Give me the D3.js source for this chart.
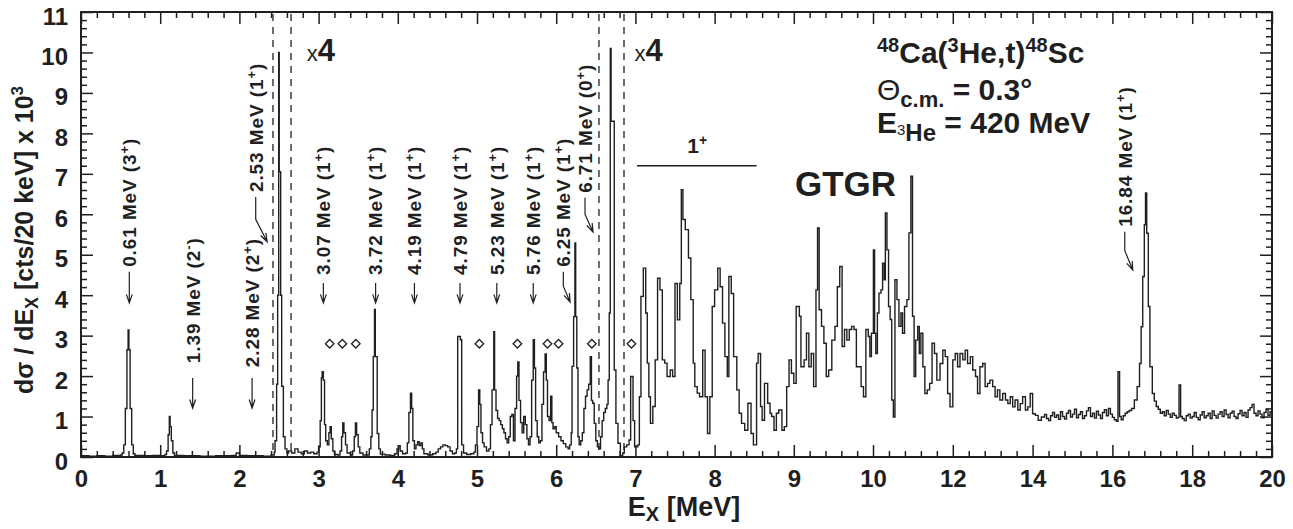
<!DOCTYPE html>
<html>
<head>
<meta charset="utf-8">
<script src="https://cdn.jsdelivr.net/npm/d3@7/dist/d3.min.js"></script>
<style>
  body { margin: 0; background: #fff; }
  svg { display: block; font-family: "Liberation Sans", Arial, Helvetica, sans-serif; }
</style>
</head>
<body>
<svg id="chart"></svg>
<script>
// Spectrum, [Ex (MeV), counts x 10^3], drawn as a step histogram
const spectrumLow = [
  [0.0, 0.03], [0.1, 0.02], [0.2, 0.03], [0.3, 0.02], [0.4, 0.04], [0.5, 0.05], [0.52, 0.1],
  [0.54, 0.3], [0.56, 1.2], [0.58, 2.65], [0.595, 3.14], [0.605, 2.65], [0.62, 1.2], [0.64, 0.3],
  [0.66, 0.08], [0.68, 0.04], [0.8, 0.03], [0.9, 0.04], [1.0, 0.03], [1.06, 0.06], [1.08, 0.15],
  [1.10, 0.55], [1.115, 1.0], [1.125, 0.75], [1.14, 0.4], [1.16, 0.1], [1.18, 0.04], [1.3, 0.03],
  [1.5, 0.02], [1.7, 0.03], [1.9, 0.04], [1.96, 0.1], [2.0, 0.04], [2.1, 0.03], [2.3, 0.02],
  [2.4, 0.05], [2.44, 0.12], [2.45, 0.4], [2.47, 1.8], [2.483, 4.0], [2.496, 10.0], [2.503, 7.05],
  [2.521, 4.0], [2.534, 1.75], [2.555, 0.5], [2.576, 0.2], [2.6, 0.1]
];

// shown x4
const spectrumX4a = [
  [2.62, 0.15], [2.66, 0.1], [2.70, 0.2], [2.74, 0.12], [2.78, 0.08], [2.82, 0.15], [2.86, 0.1],
  [2.90, 0.12], [2.94, 0.08], [2.98, 0.12], [3.00, 0.25], [3.02, 0.9], [3.035, 1.96], [3.045, 2.11],
  [3.06, 1.9], [3.075, 0.8], [3.09, 0.4], [3.11, 0.3], [3.13, 0.6], [3.145, 0.75], [3.16, 0.45],
  [3.18, 0.15], [3.20, 0.06], [3.24, 0.05], [3.27, 0.15], [3.29, 0.5], [3.305, 0.84], [3.32, 0.6],
  [3.34, 0.3], [3.36, 0.1], [3.40, 0.05], [3.43, 0.15], [3.45, 0.5], [3.465, 0.84], [3.48, 0.55],
  [3.50, 0.25], [3.52, 0.1], [3.56, 0.05], [3.60, 0.05], [3.64, 0.2], [3.66, 0.5], [3.675, 1.16],
  [3.69, 2.48], [3.706, 3.65], [3.716, 2.48], [3.74, 0.58], [3.76, 0.2], [3.78, 0.07], [3.84, 0.05],
  [3.90, 0.04], [3.96, 0.08], [3.99, 0.2], [4.01, 0.28], [4.03, 0.15], [4.06, 0.08], [4.10, 0.1],
  [4.12, 0.35], [4.14, 1.1], [4.16, 1.58], [4.175, 1.2], [4.19, 0.4], [4.21, 0.2], [4.23, 0.3],
  [4.25, 0.38], [4.27, 0.28], [4.29, 0.35], [4.31, 0.2], [4.33, 0.08], [4.38, 0.05], [4.44, 0.08],
  [4.48, 0.12], [4.51, 0.2], [4.54, 0.25], [4.57, 0.3], [4.60, 0.28], [4.63, 0.25], [4.66, 0.15],
  [4.69, 0.08], [4.72, 0.1], [4.74, 0.2], [4.756, 2.98], [4.79, 2.9], [4.807, 0.3], [4.83, 0.1],
  [4.87, 0.06], [4.92, 0.08], [4.96, 0.12], [4.98, 0.3], [5.00, 0.75], [5.02, 1.66], [5.035, 1.3],
  [5.05, 0.6], [5.07, 0.35], [5.09, 0.25], [5.12, 0.15], [5.15, 0.2], [5.17, 0.8], [5.19, 1.66],
  [5.212, 3.1], [5.222, 1.66], [5.24, 1.15], [5.26, 0.95], [5.28, 0.9], [5.30, 0.8], [5.32, 0.7],
  [5.34, 0.6], [5.36, 0.45], [5.38, 0.35], [5.40, 0.5], [5.42, 1.0], [5.44, 1.05], [5.46, 0.4],
  [5.48, 1.2], [5.50, 2.0], [5.515, 2.35], [5.53, 1.4], [5.55, 0.85], [5.57, 0.6], [5.59, 1.0],
  [5.61, 0.8], [5.63, 0.45], [5.65, 0.3], [5.67, 0.5], [5.69, 1.9], [5.71, 2.9], [5.725, 2.2],
  [5.74, 0.9], [5.76, 0.5], [5.78, 0.35], [5.80, 0.4], [5.82, 1.3], [5.84, 2.1], [5.86, 2.55],
  [5.875, 1.9], [5.89, 1.0], [5.91, 0.9], [5.93, 1.5], [5.945, 0.85], [5.96, 0.7], [5.98, 0.75],
  [6.00, 0.6], [6.03, 0.5], [6.06, 0.4], [6.09, 0.33], [6.12, 0.25], [6.15, 0.2], [6.17, 0.3],
  [6.19, 0.6], [6.20, 2.24], [6.22, 3.47], [6.236, 5.29], [6.246, 3.47], [6.26, 2.2], [6.275, 0.5],
  [6.29, 0.3], [6.31, 0.4], [6.33, 0.6], [6.35, 1.2], [6.37, 1.5], [6.39, 1.66], [6.41, 1.8],
  [6.43, 2.48], [6.445, 1.4], [6.46, 1.33], [6.48, 0.83], [6.50, 0.4], [6.52, 0.25]
];

// 6.71 MeV peak, shown x1
const spectrumMid = [
  [6.54, 0.2], [6.56, 0.5], [6.58, 0.9], [6.60, 1.1], [6.62, 1.2], [6.64, 1.3], [6.655, 1.9],
  [6.67, 3.56], [6.683, 10.1], [6.693, 8.3], [6.733, 2.15], [6.754, 0.83], [6.78, 0.34],
  [6.81, 0.03], [6.84, 0.1]
];

// shown x4
const spectrumHigh = [
  [6.86, 0.25], [6.89, 0.3], [6.92, 0.42], [6.94, 1.99], [6.97, 0.9], [6.99, 0.25], [7.03, 0.3],
  [7.05, 1.49], [7.07, 3.97], [7.10, 4.67], [7.13, 3.56], [7.15, 2.32], [7.17, 1.49], [7.19, 0.83],
  [7.22, 1.25], [7.25, 2.4], [7.28, 4.42], [7.31, 4.13], [7.34, 2.4], [7.37, 2.32], [7.40, 1.99],
  [7.44, 2.15], [7.47, 1.99], [7.50, 4.29], [7.53, 3.39], [7.56, 4.29], [7.58, 6.61], [7.60, 5.87],
  [7.63, 5.62], [7.67, 4.92], [7.70, 3.89], [7.73, 2.32], [7.75, 1.74], [7.78, 1.58], [7.81, 1.49],
  [7.85, 2.64], [7.88, 1.49], [7.91, 0.58], [7.94, 1.49], [7.97, 3.72], [8.00, 4.13], [8.04, 4.67],
  [8.07, 4.21], [8.10, 3.31], [8.13, 2.48], [8.16, 1.99], [8.18, 4.46], [8.21, 4.04], [8.24, 2.48],
  [8.28, 1.66], [8.31, 1.08], [8.34, 0.83], [8.38, 0.66], [8.42, 1.33], [8.46, 0.58], [8.49, 0.3],
  [8.53, 2.32], [8.55, 2.56], [8.58, 1.25], [8.60, 0.91], [8.63, 1.82], [8.67, 1.33], [8.70, 1.08],
  [8.72, 1.0], [8.75, 0.66], [8.78, 1.08], [8.81, 1.16], [8.85, 0.66], [8.88, 0.75], [8.91, 1.74],
  [8.94, 2.4], [8.97, 2.07], [9.00, 1.82], [9.03, 3.72], [9.07, 3.48], [9.09, 2.23], [9.13, 2.40],
  [9.16, 3.06], [9.19, 2.23], [9.22, 2.56], [9.25, 1.74], [9.28, 4.13], [9.30, 5.66], [9.32, 3.64],
  [9.35, 3.23], [9.38, 2.81], [9.41, 1.99], [9.44, 2.15], [9.48, 2.89], [9.52, 3.23], [9.55, 4.21],
  [9.58, 4.71], [9.61, 2.73], [9.64, 3.15], [9.67, 2.89], [9.70, 3.15], [9.73, 3.23], [9.76, 3.15],
  [9.79, 2.23], [9.83, 2.23], [9.85, 1.74], [9.88, 1.49], [9.91, 3.15], [9.94, 2.98], [9.96, 2.48],
  [9.98, 3.06], [10.01, 5.12], [10.04, 3.06], [10.07, 2.56], [10.11, 3.56], [10.15, 4.05],
  [10.2, 4.13], [10.24, 4.79], [10.28, 4.38], [10.31, 6.03], [10.35, 5.12], [10.39, 3.72],
  [10.43, 3.40], [10.47, 1.41], [10.51, 0.99], [10.55, 4.38], [10.6, 3.89], [10.65, 3.23],
  [10.7, 3.56], [10.74, 3.06], [10.79, 3.72], [10.85, 3.89], [10.9, 5.54], [10.95, 6.94],
  [10.99, 3.48], [11.03, 1.99], [11.07, 2.89], [11.12, 3.23], [11.16, 2.56], [11.2, 3.06],
  [11.25, 2.23], [11.3, 1.57], [11.36, 1.66], [11.42, 1.82], [11.48, 2.81], [11.54, 2.56],
  [11.6, 1.9], [11.68, 2.31], [11.75, 2.64], [11.81, 2.48], [11.87, 1.57], [11.93, 1.24],
  [12.0, 2.4], [12.06, 2.56], [12.12, 2.23], [12.18, 2.56], [12.25, 2.4], [12.31, 2.64],
  [12.37, 2.31], [12.44, 2.48], [12.5, 2.15], [12.57, 1.99], [12.62, 1.57], [12.68, 2.23],
  [12.75, 2.31], [12.81, 1.74], [12.87, 1.82], [12.93, 1.9], [13.0, 1.74], [13.06, 1.49],
  [13.12, 1.66], [13.18, 1.41], [13.25, 1.57], [13.32, 1.41], [13.38, 1.32], [13.44, 1.49],
  [13.5, 1.24], [13.56, 1.41], [13.63, 1.16], [13.69, 1.32], [13.75, 1.49], [13.82, 1.16],
  [13.88, 1.24], [13.94, 1.57], [14.0, 1.07], [14.07, 1.03], [14.14, 0.91], [14.22, 0.99],
  [14.30, 1.05], [14.35, 0.95], [14.40, 0.90], [14.45, 1.02], [14.50, 1.10], [14.55, 0.98],
  [14.60, 1.04], [14.65, 0.93], [14.70, 1.12], [14.75, 1.00], [14.80, 0.94], [14.85, 1.08],
  [14.90, 1.15], [14.95, 0.99], [15.00, 1.06], [15.05, 1.18], [15.10, 0.97], [15.15, 1.05],
  [15.20, 1.12], [15.25, 0.95], [15.30, 1.02], [15.35, 1.14], [15.40, 1.22], [15.45, 1.00],
  [15.50, 1.08], [15.55, 0.96], [15.60, 1.13], [15.65, 1.04], [15.70, 0.95], [15.75, 1.10],
  [15.80, 1.17], [15.85, 1.02], [15.90, 1.20], [15.95, 1.06], [16.00, 0.98], [16.05, 0.92],
  [16.1, 0.88], [16.14, 2.11], [16.18, 1.0], [16.22, 0.92], [16.27, 1.02], [16.32, 1.08],
  [16.37, 1.12], [16.42, 1.15], [16.48, 1.2], [16.55, 1.41], [16.62, 1.74], [16.68, 2.31],
  [16.72, 3.22], [16.76, 4.46], [16.80, 5.74], [16.83, 6.53], [16.86, 5.53], [16.90, 3.72],
  [16.94, 2.23], [17.0, 1.57], [17.05, 1.38], [17.1, 1.25], [17.15, 1.18], [17.2, 1.08],
  [17.25, 1.12], [17.3, 1.02], [17.35, 1.15], [17.4, 1.06], [17.45, 0.98], [17.5, 1.08],
  [17.55, 1.03], [17.6, 0.96], [17.64, 0.98], [17.67, 1.78], [17.71, 1.0], [17.75, 0.95],
  [17.80, 0.90], [17.85, 1.02], [17.90, 1.06], [17.95, 0.96], [18.00, 1.00], [18.05, 1.10],
  [18.10, 0.98], [18.15, 0.92], [18.20, 1.04], [18.25, 1.12], [18.30, 0.97], [18.35, 1.02],
  [18.40, 1.08], [18.45, 0.95], [18.50, 1.14], [18.55, 1.03], [18.60, 0.96], [18.65, 1.06],
  [18.70, 1.12], [18.75, 1.00], [18.80, 1.16], [18.85, 1.05], [18.90, 0.97], [18.95, 1.08],
  [19.00, 1.13], [19.05, 1.00], [19.10, 0.95], [19.15, 1.07], [19.20, 1.15], [19.25, 1.02],
  [19.30, 1.10], [19.35, 0.98], [19.40, 1.16], [19.45, 1.22], [19.50, 1.30], [19.55, 1.08],
  [19.60, 1.02], [19.65, 1.14], [19.70, 1.06], [19.75, 0.97], [19.80, 1.10], [19.85, 1.18],
  [19.90, 1.03], [19.95, 1.12], [20.0, 1.05]
];

// dashed boundaries of the x1 windows (MeV)
const scaleBoundaries = [2.424, 2.652, 6.54, 6.856];

// diamond markers (MeV)
const diamondEnergies = [3.14, 3.30, 3.47, 5.03, 5.51, 5.89, 6.03, 6.45, 6.95];
const diamondLevel = 2.8;

// tick labels
const xMajorTicks = [0, 1, 2, 3, 4, 5, 6, 7, 8, 9, 10, 12, 14, 16, 18, 20];
const yMajorTicks = [0, 1, 2, 3, 4, 5, 6, 7, 8, 9, 10, 11];

// state labels with straight arrows: [text, J, parity, arrow Ex]
const straightLabels = [
  ["0.61 MeV", "3", "+", 0.61],
  ["1.39 MeV", "2", "-", 1.41],
  ["2.28 MeV", "2", "+", 2.16],
  ["3.07 MeV", "1", "+", 3.06],
  ["3.72 MeV", "1", "+", 3.72],
  ["4.19 MeV", "1", "+", 4.21],
  ["4.79 MeV", "1", "+", 4.785],
  ["5.23 MeV", "1", "+", 5.25],
  ["5.76 MeV", "1", "+", 5.71]
];
// state labels with bent leaders: [text, J, parity, text Ex, tip Ex]
const bentLabels = [
  ["2.53 MeV", "1", "+", 2.206, 2.35],
  ["6.25 MeV", "1", "+", 6.09, 6.175],
  ["6.71 MeV", "0", "+", 6.364, 6.465],
  ["16.84 MeV", "1", "+", 16.31, 16.51]
];

const width = 1293, height = 529;
const ink = "#1f1f1f";

const svg = d3.select("#chart")
  .attr("width", width)
  .attr("height", height)
  .attr("viewBox", `0 0 ${width} ${height}`);

svg.append("rect").attr("width", width).attr("height", height).attr("fill", "#fff");

// axis is stretched: 0-10 MeV gets twice the room of 10-20 MeV
const x = d3.scaleLinear().domain([0, 10, 20]).range([81, 873, 1272]);
const y = d3.scaleLinear().domain([0, 11]).range([457, 12]);

const plot = svg.append("g");

// spectrum
const spectrum = spectrumLow.concat(spectrumX4a, spectrumMid, spectrumHigh);
const line = d3.line()
  .x(d => x(d[0]))
  .y(d => y(d[1]))
  .curve(d3.curveStepAfter);

plot.append("path")
  .datum(spectrum)
  .attr("d", line)
  .attr("fill", "none")
  .attr("stroke", ink)
  .attr("stroke-width", 1.4)
  .attr("stroke-linejoin", "miter");

// dashed boundaries
plot.selectAll("line.bound")
  .data(scaleBoundaries)
  .join("line")
  .attr("class", "bound")
  .attr("x1", d => x(d)).attr("x2", d => x(d))
  .attr("y1", y(11) + 2).attr("y2", y(0))
  .attr("stroke", ink)
  .attr("stroke-width", 1.3)
  .attr("stroke-dasharray", "7 6");

// diamonds
plot.selectAll("path.diamond")
  .data(diamondEnergies)
  .join("path")
  .attr("class", "diamond")
  .attr("d", d => {
    const cx = x(d), cy = y(diamondLevel), r = 4.3;
    return `M${cx},${cy - r}L${cx + r},${cy}L${cx},${cy + r}L${cx - r},${cy}Z`;
  })
  .attr("fill", "#fff")
  .attr("stroke", ink)
  .attr("stroke-width", 1.3);

// axes: ticks point inward
const xMinor = d3.range(0.2, 10, 0.2).filter(v => Math.abs(v - Math.round(v)) > 0.01)
  .concat(d3.range(10.4, 20, 0.4).filter(v => Math.abs(v / 2 - Math.round(v / 2)) > 0.01));
const yMinor = d3.range(0.2, 11, 0.2).filter(v => Math.abs(v - Math.round(v)) > 0.01);

function styleAxis(g) {
  g.select(".domain").remove();
  g.selectAll(".tick line").attr("stroke", ink).attr("stroke-width", 1.5);
  g.selectAll("text")
    .attr("fill", ink)
    .attr("font-size", 24)
    .attr("font-weight", "bold")
    .attr("font-family", "'Liberation Sans', Arial, sans-serif");
}

svg.append("g").attr("transform", `translate(0,${y(0)})`)
  .call(d3.axisBottom(x).tickValues(xMajorTicks).tickSize(-12).tickPadding(13).tickFormat(d3.format("d")))
  .call(styleAxis);
svg.append("g").attr("transform", `translate(0,${y(0)})`)
  .call(d3.axisBottom(x).tickValues(xMinor).tickSize(-6).tickFormat(""))
  .call(styleAxis);
svg.append("g").attr("transform", `translate(0,${y(11)})`)
  .call(d3.axisTop(x).tickValues(xMajorTicks).tickSize(-12).tickFormat(""))
  .call(styleAxis);
svg.append("g").attr("transform", `translate(0,${y(11)})`)
  .call(d3.axisTop(x).tickValues(xMinor).tickSize(-6).tickFormat(""))
  .call(styleAxis);
svg.append("g").attr("transform", `translate(${x(0)},0)`)
  .call(d3.axisLeft(y).tickValues(yMajorTicks).tickSize(-12).tickPadding(13).tickFormat(d3.format("d")))
  .call(styleAxis)
  .call(g => g.selectAll("text").attr("dy", "0.5em"));
svg.append("g").attr("transform", `translate(${x(0)},0)`)
  .call(d3.axisLeft(y).tickValues(yMinor).tickSize(-6).tickFormat(""))
  .call(styleAxis);
svg.append("g").attr("transform", `translate(${x(20)},0)`)
  .call(d3.axisRight(y).tickValues(yMajorTicks).tickSize(-12).tickFormat(""))
  .call(styleAxis);
svg.append("g").attr("transform", `translate(${x(20)},0)`)
  .call(d3.axisRight(y).tickValues(yMinor).tickSize(-6).tickFormat(""))
  .call(styleAxis);

// frame
svg.append("rect")
  .attr("x", x(0)).attr("y", y(11))
  .attr("width", x(20) - x(0)).attr("height", y(0) - y(11))
  .attr("fill", "none")
  .attr("stroke", ink)
  .attr("stroke-width", 2);

// rotated state labels
function stateLabel(txt, j, parity, px, py) {
  const t = svg.append("text")
    .attr("transform", `translate(${px},${py}) rotate(-90)`)
    .attr("dy", "0.36em")
    .attr("font-size", 19)
    .attr("font-weight", "bold")
    .attr("letter-spacing", 0.9)
    .attr("fill", ink);
  t.append("tspan").text(`${txt} (${j}`);
  t.append("tspan").attr("dy", -7).attr("font-size", 13).text(parity);
  t.append("tspan").attr("dy", 7).text(")");
}

function arrowHead(tx, ty, angle) {
  // open V head, angle = direction of travel (radians)
  const len = 9, spread = 0.33;
  const a1 = angle + Math.PI - spread, a2 = angle + Math.PI + spread;
  return `M${tx + len * Math.cos(a1)},${ty + len * Math.sin(a1)}L${tx},${ty}L${tx + len * Math.cos(a2)},${ty + len * Math.sin(a2)}`;
}

const straightLayout = [
  { bottom: 4.70, a0: 4.58, a1: 3.81 },
  { bottom: 2.32, a0: 1.95, a1: 1.21 },
  { bottom: 2.22, a0: 1.95, a1: 1.21 },
  { bottom: 4.50, a0: 4.30, a1: 3.81 },
  { bottom: 4.50, a0: 4.30, a1: 3.81 },
  { bottom: 4.50, a0: 4.30, a1: 3.81 },
  { bottom: 4.50, a0: 4.30, a1: 3.81 },
  { bottom: 4.50, a0: 4.30, a1: 3.81 },
  { bottom: 4.50, a0: 4.30, a1: 3.81 }
];

straightLabels.forEach((d, i) => {
  const L = straightLayout[i];
  const px = x(d[3]);
  stateLabel(d[0], d[1], d[2], px, y(L.bottom));
  svg.append("path")
    .attr("d", `M${px},${y(L.a0)}L${px},${y(L.a1)}` + arrowHead(px, y(L.a1), Math.PI / 2))
    .attr("fill", "none")
    .attr("stroke", ink)
    .attr("stroke-width", 1.2);
});

const bentLayout = [
  { bottom: 6.55, tipV: 5.32 },
  { bottom: 4.70, tipV: 3.83 },
  { bottom: 6.53, tipV: 5.56 },
  { bottom: 5.69, tipV: 4.62 }
];

bentLabels.forEach((d, i) => {
  const L = bentLayout[i];
  const px = x(d[3]), py = y(L.bottom);
  const tx = x(d[4]), ty = y(L.tipV);
  stateLabel(d[0], d[1], d[2], px, py);
  const kneeY = py + 0.55 * (ty - py);
  const ang = Math.atan2(ty - kneeY, tx - px);
  svg.append("path")
    .attr("d", `M${px},${py + 5}L${px},${kneeY}L${tx},${ty}` + arrowHead(tx, ty, ang))
    .attr("fill", "none")
    .attr("stroke", ink)
    .attr("stroke-width", 1.2);
});

// x4 labels
[2.85, 6.99].forEach(e => {
  const t = svg.append("text")
    .attr("x", x(e)).attr("y", y(9.78))
    .attr("fill", ink);
  t.append("tspan").attr("font-size", 22).text("x");
  t.append("tspan").attr("font-size", 31).attr("font-weight", "bold").text("4");
});

// 1+ band
svg.append("line")
  .attr("x1", x(7.02)).attr("x2", x(8.53))
  .attr("y1", y(7.2)).attr("y2", y(7.2))
  .attr("stroke", ink).attr("stroke-width", 1.4);
const onePlus = svg.append("text")
  .attr("x", x(7.78)).attr("y", y(7.52))
  .attr("text-anchor", "middle")
  .attr("font-size", 21).attr("font-weight", "bold").attr("fill", ink);
onePlus.append("tspan").text("1");
onePlus.append("tspan").attr("dy", -8).attr("font-size", 14).text("+");

// GTGR
svg.append("text")
  .attr("x", x(9.015)).attr("y", y(6.44))
  .attr("font-size", 35).attr("font-weight", "bold").attr("fill", ink)
  .text("GTGR");

// reaction block
const bx = x(10.1);
const r1 = svg.append("text").attr("x", bx).attr("y", 63)
  .attr("font-size", 30).attr("font-weight", "bold").attr("fill", ink);
r1.append("tspan").attr("font-size", 20).attr("dy", -11).text("48");
r1.append("tspan").attr("dy", 11).text("Ca(");
r1.append("tspan").attr("font-size", 20).attr("dy", -11).text("3");
r1.append("tspan").attr("dy", 11).text("He,t)");
r1.append("tspan").attr("font-size", 20).attr("dy", -11).text("48");
r1.append("tspan").attr("dy", 11).text("Sc");

const r2 = svg.append("text").attr("x", bx).attr("y", 100)
  .attr("font-size", 30).attr("font-weight", "bold").attr("fill", ink);
r2.append("tspan").attr("font-weight", "normal").text("\u0398");
r2.append("tspan").attr("font-size", 22).attr("dy", 7).text("c.m.");
r2.append("tspan").attr("dy", -7).text(" = 0.3\u00b0");

const r3 = svg.append("text").attr("x", bx).attr("y", 133)
  .attr("font-size", 30).attr("font-weight", "bold").attr("fill", ink);
r3.append("tspan").text("E");
r3.append("tspan").attr("font-size", 15).attr("font-weight", "normal").attr("dy", 2).text("3");
r3.append("tspan").attr("font-size", 24).attr("dy", 6).text("He");
r3.append("tspan").attr("dy", -8).text(" = 420 MeV");

// axis titles
const xt = svg.append("text")
  .attr("x", 684).attr("y", 516)
  .attr("text-anchor", "middle")
  .attr("font-size", 27).attr("font-weight", "bold").attr("fill", ink);
xt.append("tspan").text("E");
xt.append("tspan").attr("font-size", 20).attr("dy", 5).text("X");
xt.append("tspan").attr("dy", -5).text(" [MeV]");

const yt = svg.append("text")
  .attr("transform", "translate(33,240) rotate(-90)")
  .attr("text-anchor", "middle")
  .attr("font-size", 25).attr("font-weight", "bold").attr("fill", ink);
yt.append("tspan").text("d\u03c3 / dE");
yt.append("tspan").attr("font-size", 18).attr("dy", 5).text("X");
yt.append("tspan").attr("dy", -5).text(" [cts/20 keV] x 10");
yt.append("tspan").attr("font-size", 17).attr("dy", -10).text("3");
</script>
</body>
</html>
